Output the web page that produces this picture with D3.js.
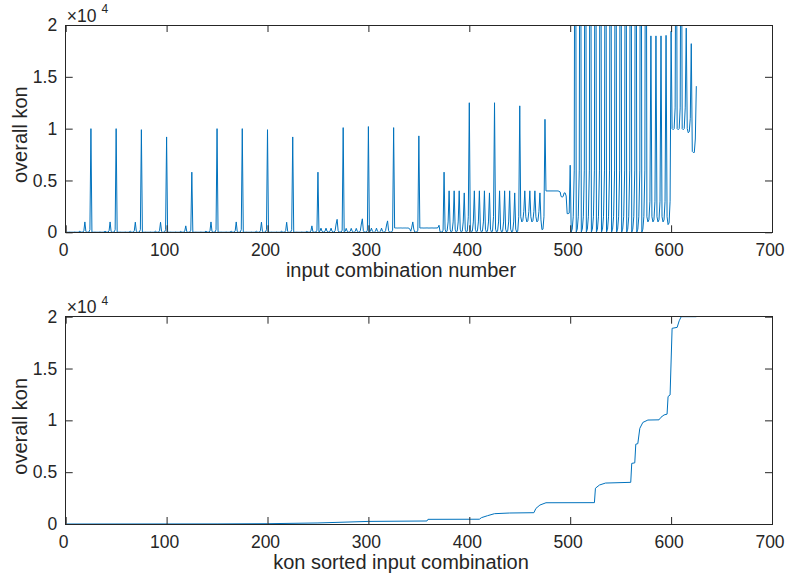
<!DOCTYPE html>
<html><head><meta charset="utf-8">
<script src="https://cdn.jsdelivr.net/npm/d3@7"></script>
<style>
body{margin:0;background:#fff;}
svg{display:block;}
text{font-family:"Liberation Sans",Arial,Helvetica,sans-serif;fill:#262626;}
</style>
</head><body>
<svg id="c" width="785" height="581"></svg>
<script>
// ---------- data ----------
const xTicks = [0, 100, 200, 300, 400, 500, 600, 700];
const yTicks = [0, 5000, 10000, 15000, 20000];
const yTickLabels = ["0", "0.5", "1", "1.5", "2"];
const xLabelTop = "input combination number";
const xLabelBottom = "kon sorted input combination";
const yLabel = "overall kon";

// overall kon, combinations 1-125
const kon1 = [
10,10,10,20,10, 10,10,10,30,10, 10,10,20,120,30, 10,20,150,1000,80, 10,10,30,250,10000,
10,10,10,20,10, 10,10,10,30,10, 10,10,20,120,30, 10,20,150,1000,80, 10,10,30,250,10000,
10,10,10,20,10, 10,10,10,30,10, 10,10,20,120,30, 10,20,150,980,80, 10,10,30,250,9900,
10,10,10,20,10, 10,10,10,30,10, 10,10,20,120,30, 10,20,150,970,80, 10,10,30,250,9200,
10,10,10,20,10, 10,10,10,30,10, 10,10,20,90,30, 10,20,120,620,60, 10,10,30,200,5800];
// combinations 126-250
const kon2 = [
10,10,10,20,10, 10,10,10,30,10, 10,10,20,120,30, 10,20,150,1000,80, 10,10,30,250,10000,
10,10,10,20,10, 10,10,10,30,10, 10,10,20,120,30, 10,20,150,1000,80, 10,10,30,250,10000,
10,10,10,20,10, 10,10,10,30,10, 10,10,20,120,30, 10,20,150,980,80, 10,10,30,250,9900,
10,10,10,20,10, 10,10,10,30,10, 10,10,20,120,30, 10,20,150,970,80, 10,10,30,250,9200,
10,10,10,20,10, 10,10,10,30,10, 10,10,20,90,30, 10,20,120,620,60, 10,10,30,200,5800];
// combinations 251-375
const kon3 = [
20,100,400,100,20, 20,100,400,100,20, 20,100,400,100,20, 20,150,800,1250,150, 20,20,30,200,10100,
20,100,380,100,20, 20,100,380,100,20, 20,100,380,100,20, 20,150,800,1300,150, 20,20,30,200,10200,
20,100,400,100,20, 20,100,400,100,20, 20,100,400,100,20, 20,150,700,1100,150, 20,20,30,200,10100,
420,415,415,410,415, 415,420,415,410,415, 415,415,410,415,410, 300,100,500,1000,300, 20,20,30,200,9300,
415,415,420,415,410, 415,415,420,415,410, 415,415,420,415,410, 415,415,420,450,680, 50,20,20,200,5800];
// combinations 376-500
const kon4 = [
300,20,100,1000,4000, 300,20,100,1000,4000, 300,20,100,1000,4000, 300,20,100,1000,3800, 300,20,100,1500,12500,
300,20,100,1000,4000, 300,20,100,1000,4000, 300,20,100,1000,4000, 300,20,100,1000,3800, 300,20,100,1500,12500,
300,20,100,1000,4000, 300,20,100,1000,4000, 300,20,100,1000,4000, 300,20,100,1000,3800, 300,20,100,1500,12200,
1500,1000,1100,2000,4000, 1500,1000,1100,2000,4000, 1500,1000,1100,2000,4000, 1500,1000,1100,2000,3800, 1200,260,300,1500,10900,
3990,3990,3990,3990,3990, 3990,3990,3990,3990,3990, 3990,3990,3990,3950,3900, 3450,3400,3450,3800,3800, 3500,1800,1800,1850,6470];
// combinations 501-625
const kon5 = [
20,300,1500,6000,60000, 20,300,1500,6000,60000, 20,300,1500,6000,60000, 20,300,1500,6000,60000, 20,300,1500,6000,60000,
20,300,1500,6000,60000, 20,300,1500,6000,60000, 20,300,1500,6000,60000, 20,300,1500,6000,60000, 20,300,1500,6000,60000,
20,300,1500,6000,60000, 20,300,1500,6000,60000, 20,300,1500,6000,60000, 20,300,1500,6000,60000, 20,300,1500,6000,60000,
1500,1000,1200,3000,18950, 1500,1000,1200,3000,18950, 1500,1000,1200,3000,18950, 1500,1000,1200,3000,19000, 1500,740,900,3000,19400,
10000,9900,10000,12000,40000, 10000,9900,10000,12000,40000, 10000,9900,10000,12000,19700, 10000,9600,9700,11000,18200, 7800,7700,7700,9000,14100];

// kon sorted: [rank, kon]
const sortedRank = [1,150,200,250,300,358,359,410,412,418,425,440,464,466,470,476,524,525,529,535,560,561,564,565,567,569,572,577,588,590,593,596,597,599,601,606,608,610,625];
const sortedKon  = [0,10,30,100,250,290,450,460,610,800,995,1060,1090,1500,1830,2050,2060,3450,3760,3950,4020,5850,5900,7700,7750,9230,9800,10030,10050,10300,10520,10600,12300,12450,18880,18970,19600,20000,20000];

// ---------- drawing ----------
const konAll = kon1.concat(kon2, kon3, kon4, kon5);
const topSeries = konAll.map((v, i) => [i + 1, v]);
const botSeries = sortedRank.map((r, i) => [r, sortedKon[i]]);

const svg = d3.select("#c");
const L = 65.7, R = 772;
const labelCx = 401;
const panels = [
  {top: 25, bottom: 232.3, data: topSeries, xlabel: xLabelTop, id: "p1"},
  {top: 316.7, bottom: 524, data: botSeries, xlabel: xLabelBottom, id: "p2"}
];
const axisColor = "#262626";
const lineColor = "#0072BD";
const tickLen = 7;
const fontFam = "'Liberation Sans', Arial, Helvetica, sans-serif";

panels.forEach(p => {
  const x = d3.scaleLinear().domain([0, 700]).range([L, R]);
  const y = d3.scaleLinear().domain([0, 20000]).range([p.bottom, p.top]);
  const g = svg.append("g");

  g.append("clipPath").attr("id", "clip" + p.id)
    .append("rect").attr("x", L).attr("y", p.top).attr("width", R - L).attr("height", p.bottom - p.top);

  const line = d3.line().x(d => x(d[0])).y(d => y(d[1]));
  g.append("path").datum(p.data)
    .attr("clip-path", "url(#clip" + p.id + ")")
    .attr("fill", "none").attr("stroke", lineColor).attr("stroke-width", 1)
    .attr("stroke-linejoin", "round")
    .attr("d", line);

  const ax = g.append("g").attr("transform", `translate(0,${p.bottom})`)
    .call(d3.axisBottom(x).tickValues(xTicks).tickSizeInner(-tickLen).tickSizeOuter(0).tickPadding(11.5).tickFormat(d3.format("d")));
  ax.selectAll("text").attr("dx", -2.5);
  const axT = g.append("g").attr("transform", `translate(0,${p.top})`)
    .call(d3.axisTop(x).tickValues(xTicks).tickSizeInner(-tickLen).tickSizeOuter(0).tickFormat(""));
  const ay = g.append("g").attr("transform", `translate(${L},0)`)
    .call(d3.axisLeft(y).tickValues(yTicks).tickSizeInner(-tickLen).tickSizeOuter(0).tickPadding(8.5)
      .tickFormat((d, i) => yTickLabels[i]));
  const ayR = g.append("g").attr("transform", `translate(${R},0)`)
    .call(d3.axisRight(y).tickValues(yTicks).tickSizeInner(-tickLen).tickSizeOuter(0).tickFormat(""));

  [ax, axT, ay, ayR].forEach(a => {
    a.select(".domain").remove();
    a.selectAll("line").attr("stroke", axisColor).attr("stroke-width", 1);
    a.selectAll("text").attr("fill", axisColor).style("font-size", "17.5px").style("font-family", fontFam);
  });

  g.append("rect").attr("x", L).attr("y", p.top).attr("width", R - L).attr("height", p.bottom - p.top)
    .attr("fill", "none").attr("stroke", axisColor).attr("stroke-width", 1).attr("shape-rendering", "crispEdges");

  // exponent label
  const ex = g.append("text").attr("x", L + 1).attr("y", p.top - 3.5).style("font-size", "17.5px");
  ex.append("tspan").text("\u00d710");
  ex.append("tspan").attr("dx", 5).attr("dy", -8.5).style("font-size", "12px").text("4");

  g.append("text").attr("x", labelCx).attr("y", p.bottom + 45)
    .attr("text-anchor", "middle").style("font-size", "20px").text(p.xlabel);
  g.append("text").attr("transform", `translate(27,${(p.top + p.bottom) / 2 + 6}) rotate(-90)`)
    .attr("text-anchor", "middle").style("font-size", "20px").text(yLabel);
});
</script>
</body></html>
